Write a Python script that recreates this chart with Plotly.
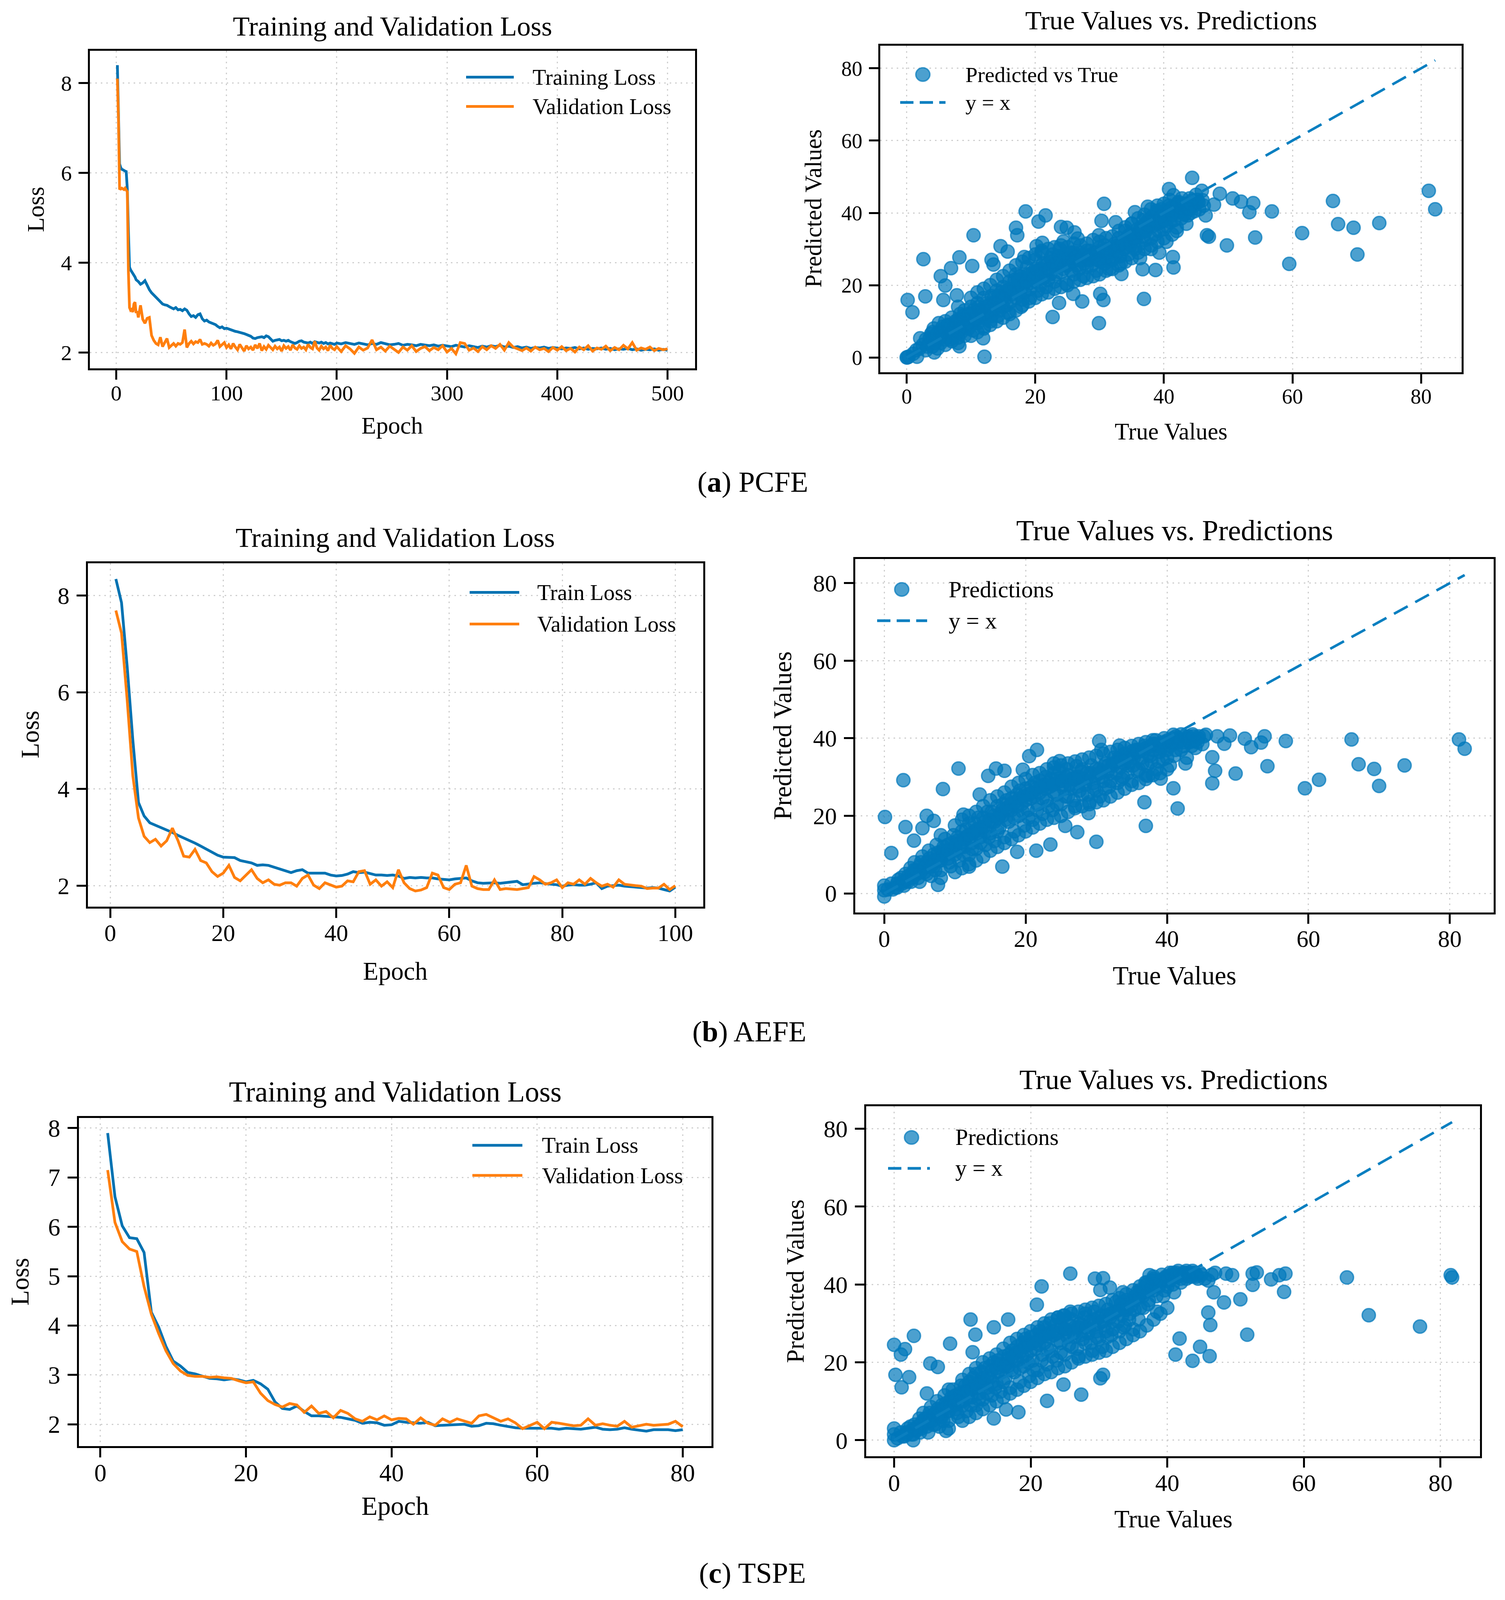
import plotly.graph_objects as go

W, H = 3852, 4295
FONT = "Liberation Serif"
FS = 0.98  # small font trim, the page is a little shorter than the reference
BLUE = "#0072B2"
ORANGE = "#FF7F0E"
DOT = "rgba(0,119,187,0.70)"
DASH_BLUE = "#0A7FC0"

# ---------------- data: (a) PCFE ----------------
epochs_a = list(range(1, 21)) + list(range(22, 201, 2)) + list(range(204, 501, 4))
train_a = [
    8.40, 7.30, 6.20, 6.12, 6.08, 6.07, 6.05, 6.04, 6.03, 5.65,
    4.70, 3.90, 3.84, 3.80, 3.76, 3.74, 3.68, 3.62, 3.60, 3.58,
    # 22..200 step 2
    3.52, 3.55, 3.60, 3.48, 3.40, 3.33, 3.28, 3.22, 3.17, 3.14,
    3.08, 3.06, 3.05, 3.02, 3.00, 2.97, 3.00, 2.95, 2.96, 2.93,
    2.97, 2.94, 2.86, 2.80, 2.82, 2.78, 2.84, 2.86, 2.75, 2.70,
    2.72, 2.68, 2.66, 2.64, 2.62, 2.58, 2.55, 2.57, 2.53, 2.54,
    2.52, 2.50, 2.49, 2.47, 2.46, 2.45, 2.43, 2.42, 2.40, 2.38,
    2.36, 2.32, 2.31, 2.33, 2.34, 2.35, 2.33, 2.37, 2.35, 2.30,
    2.25, 2.27, 2.28, 2.29, 2.26, 2.27, 2.25, 2.27, 2.24, 2.22,
    2.20, 2.22, 2.25, 2.26, 2.23, 2.22, 2.21, 2.23, 2.20, 2.24,
    2.22, 2.21, 2.23, 2.20, 2.22, 2.19, 2.21, 2.20, 2.18, 2.21,
    # 204..500 step 4
    2.19, 2.22, 2.20, 2.18, 2.21, 2.19, 2.17, 2.20, 2.18, 2.22,
    2.19, 2.17, 2.18, 2.20, 2.16, 2.18, 2.17, 2.15, 2.18, 2.16,
    2.15, 2.17, 2.14, 2.16, 2.15, 2.13, 2.16, 2.14, 2.12, 2.15,
    2.13, 2.11, 2.14, 2.12, 2.15, 2.13, 2.16, 2.12, 2.14, 2.11,
    2.13, 2.10, 2.12, 2.09, 2.11, 2.10, 2.12, 2.09, 2.11, 2.10,
    2.08, 2.10, 2.09, 2.11, 2.08, 2.10, 2.07, 2.09, 2.08, 2.10,
    2.07, 2.09, 2.06, 2.08, 2.07, 2.09, 2.06, 2.08, 2.05, 2.07,
    2.06, 2.08, 2.05, 2.07, 2.05,
]
val_a = [
    8.10, 7.17, 5.65, 5.64, 5.66, 5.65, 5.63, 5.66, 5.62, 5.58,
    3.80, 3.00, 2.94, 2.96, 2.90, 3.08, 3.12, 2.88, 2.92, 2.78,
    # 22..200 step 2
    3.05, 2.74, 2.65, 2.76, 2.78, 2.38, 2.27, 2.20, 2.17, 2.34,
    2.13, 2.22, 2.31, 2.11, 2.16, 2.20, 2.14, 2.20, 2.18, 2.22,
    2.51, 2.11, 2.20, 2.25, 2.19, 2.24, 2.22, 2.29, 2.18, 2.20,
    2.18, 2.14, 2.21, 2.16, 2.19, 2.27, 2.13, 2.18, 2.22, 2.11,
    2.17, 2.08, 2.20, 2.12, 2.06, 2.18, 2.10, 2.03, 2.15, 2.08,
    2.12, 2.05, 2.17, 2.09, 2.20, 2.04, 2.13, 2.07, 2.16, 2.10,
    2.06, 2.14, 2.08, 2.12, 2.03, 2.15, 2.09, 2.13, 2.05, 2.17,
    2.10, 2.07, 2.15, 2.09, 2.12, 2.06, 2.18, 2.11, 2.08, 2.25,
    2.10, 2.05, 2.14, 2.08, 2.12, 2.04, 2.16, 2.09, 2.06, 2.13,
    # 204..500 step 4
    2.02, 2.15, 2.08, 1.98, 2.12, 2.05, 2.10, 2.28, 2.06, 2.12,
    2.03, 2.14, 2.07, 2.00, 2.12, 2.05, 2.15, 2.02, 2.09, 2.13,
    2.04, 2.11, 2.06, 2.15, 2.01, 2.09, 1.97, 2.22, 2.20, 2.05,
    2.10, 2.02, 2.13, 2.06, 2.15, 2.09, 2.18, 2.05, 2.22, 2.12,
    2.08, 2.04, 2.10, 2.03, 2.12, 2.06, 2.09, 2.02, 2.11, 2.05,
    2.13, 2.04, 2.09, 2.01, 2.12, 2.06, 2.15, 2.03, 2.10, 2.07,
    2.14, 2.04, 2.11, 2.06, 2.16, 2.08, 2.22, 2.05, 2.10, 2.07,
    2.12, 2.04, 2.09, 2.06, 2.08,
]
# (true, predicted) pairs
points_a = [
    (0, 0), (0.3, 0.2), (0.1, 0), (1.6, 0.2), (0.15, 15.9), (0.9, 12.5), (2.6, 27.2), (2.9, 16.9),
    (2.1, 5.3), (5.3, 22.5), (6.0, 19.9), (5.7, 15.9), (6.9, 24.7), (8.2, 27.7), (7.8, 17.2),
    (10.2, 25.3), (10.4, 33.8), (11.9, 5.3), (12.1, 0.2), (8.2, 3.1), (4.3, 1.4), (13.2, 27.0),
    (13.5, 25.7), (14.6, 30.8), (15.7, 29.3), (17.0, 35.9), (17.2, 33.8), (16.5, 9.5), (18.5, 40.4),
    (20.5, 37.6), (21.6, 39.3), (18.3, 27.8), (20.2, 30.8), (21.1, 31.7), (22.7, 11.2), (23.7, 15.1),
    (24.0, 36.1), (24.9, 35.9), (24.4, 32.1), (26.1, 34.6), (26.6, 32.9), (27.3, 15.5), (25.9, 17.6),
    (29.9, 33.8), (30.3, 37.8), (30.7, 42.5), (29.9, 9.5), (30.6, 15.9), (30.1, 17.6), (32.5, 37.4),
    (33.4, 23.1), (35.5, 40.2), (36.9, 16.2), (36.7, 24.4), (38.7, 24.2), (37.5, 41.7), (38.9, 40.6),
    (40.8, 46.6), (41.5, 44.9), (40.9, 43.6), (41.5, 24.9), (41.4, 27.8), (44.4, 49.7), (45.9, 46.1),
    (46.5, 39.3), (46.7, 33.8), (47.0, 33.4), (47.8, 42.3), (48.7, 45.3), (49.8, 31.0), (50.7, 44.0),
    (52.0, 43.1), (53.3, 40.2), (53.9, 42.7), (54.2, 33.2), (56.8, 40.4), (59.5, 25.9), (61.5, 34.4),
    (66.3, 43.3), (67.1, 36.9), (69.5, 35.9), (70.1, 28.5), (73.5, 37.2), (81.2, 46.1), (82.2, 41.0),
    (45.2, 43.6), (43.7, 39.3), (42.2, 42.7),
    (1, 1), (1.5, 2), (2, 2.5), (2.5, 3.5), (3, 2), (3, 5), (3.5, 4), (3.8, 6.5), (4, 3), (4.2, 8),
    (4.5, 5), (4.8, 2.5), (5, 7), (5, 9.5), (5.3, 4), (5.5, 6), (5.8, 8), (6, 3.5), (6, 10), (6.3, 5.5),
    (6.5, 7.5), (6.8, 9), (7, 4.5), (7, 11), (7.3, 6.5), (7.6, 8.5), (8, 5.5), (8, 10.5), (8.3, 12),
    (8.5, 7), (8.8, 9), (9, 6), (9, 13), (9.3, 10.5), (9.6, 8), (10, 11), (10, 14), (10.3, 7.5),
    (10.6, 12.5), (11, 9.5), (11, 15), (11.4, 11.5), (11.8, 13.5), (12, 8.5), (12, 16.5), (12.4, 12),
    (12.8, 14.5), (13, 10), (13.2, 17), (13.5, 13), (13.8, 15.5), (14, 18.5), (14.2, 11.5), (14.6, 16),
    (15, 14), (15, 19.5), (15.4, 17.5), (15.8, 12.5), (16, 21), (16.2, 15.5), (16.6, 18.5), (17, 16.5),
    (17, 23), (17.4, 20), (17.8, 14), (18, 22), (18.3, 18), (18.7, 25), (19, 20.5), (19.2, 16.5),
    (19.6, 23.5), (20, 21), (20, 27), (20.4, 18.5), (20.8, 24.5), (21, 29), (21.3, 22), (21.7, 19.5),
    (22, 26), (22.3, 23), (22.7, 28.5), (23, 21), (23.3, 25), (23.8, 30), (24, 23.5), (24.4, 27),
    (24.8, 20.5), (25, 25.5), (25.5, 29), (26, 23), (26, 27.5), (26.5, 25.5), (27, 29), (27.5, 22.5),
    (27.8, 27), (28, 25), (28.5, 29.5), (29, 27.5), (29.5, 24), (30, 29), (30.2, 26.5), (30.8, 31),
    (31, 27.5), (31.5, 24.5), (32, 30.5), (32.4, 28), (33, 33), (33.3, 26), (33.8, 30), (34, 35),
    (34.5, 28.5), (35, 32), (35, 37), (35.5, 30), (36, 34.5), (36.3, 27.5), (36.8, 38), (37, 32.5),
    (37.5, 36), (38, 30), (38.2, 39), (38.6, 34), (39, 37), (39.3, 29), (39.6, 41), (40, 35.5),
    (40, 39), (40.4, 32), (40.8, 42), (41, 37.5), (41.3, 34), (41.7, 40.5), (42, 36), (42.3, 43),
    (42.7, 38.5), (43, 41), (43.5, 37), (44, 44), (44.2, 40), (44.7, 42), (45, 45), (45.5, 41), (46, 43.5),
    (3.2, 3), (3.6, 5.5), (4, 7), (4.4, 4), (5.2, 5.5), (5.6, 8.5), (6, 6.5), (6.4, 9), (6.8, 5),
    (7.2, 8), (7.6, 10), (8, 7), (8.4, 9.5), (8.8, 11.5), (9.2, 8.5), (9.6, 12), (10, 9), (10.4, 13),
    (10.8, 10.5), (11.2, 14), (11.6, 12.5), (12, 11), (12.4, 15), (12.8, 13), (13.2, 11.5), (13.6, 16.5),
    (14, 14.5), (14.4, 13), (14.8, 18), (15.2, 16), (15.6, 14.5), (16, 19), (16.4, 17.5), (16.8, 21.5),
    (17.2, 18), (17.6, 22.5), (18, 16), (18.4, 20.5), (18.8, 23), (19.2, 19), (19.6, 21.5), (20, 24.5),
    (20.4, 22.5), (20.8, 20), (21.2, 26), (21.6, 24), (22, 21.5), (22.4, 27.5), (22.8, 25.5), (23.2, 23),
    (23.6, 28), (24, 26), (24.4, 24.5), (24.8, 28.5), (25.2, 26.5), (25.6, 24), (26, 29), (26.4, 27),
    (26.8, 24.5), (27.2, 28), (27.6, 26), (28, 29.5), (28.4, 27), (28.8, 25.5), (29.2, 29), (29.6, 27),
    (30, 30.5), (30.4, 28), (30.8, 26), (31.2, 30), (31.6, 28.5), (32, 27), (32.4, 31.5), (32.8, 29.5),
    (33.2, 28), (33.6, 32), (34, 30.5), (34.4, 33.5), (34.8, 31), (35.2, 34), (35.6, 33), (36, 31),
    (36.4, 36), (36.8, 33.5), (37.2, 35), (37.6, 38), (38, 33), (38.4, 36.5), (38.8, 39.5), (39.2, 35),
    (39.6, 37.5), (40, 40.5), (40.4, 36.5), (40.8, 39.5), (41.2, 41.5), (41.6, 38), (42, 40),
    (42.4, 41.5), (42.8, 44), (43.2, 39.5), (43.6, 42.5), (44, 41), (44.4, 43.5), (44.8, 40.5),
    (45.4, 43), (46.2, 42),
    (4.1, 5), (4.7, 6.5), (5.4, 7), (5.9, 5), (6.6, 8), (7.1, 7), (7.8, 9.5), (8.3, 8), (8.9, 10.5),
    (9.5, 9.5), (10.1, 12), (10.7, 11), (11.3, 13), (11.9, 12), (12.5, 14), (13.1, 13.5), (13.7, 15),
    (14.3, 17), (14.9, 16.5), (15.5, 18.5), (16.1, 18), (16.7, 20), (17.3, 21.5), (17.9, 19.5),
    (18.5, 21), (19.1, 23), (19.7, 22), (20.3, 24), (20.9, 23), (21.5, 25.5), (22.1, 24.5), (22.7, 26.5),
    (23.3, 26), (23.9, 27), (24.5, 25.5), (25.1, 27.5), (25.7, 26.5), (26.3, 28), (26.9, 27), (27.5, 28.5),
    (28.1, 27.5), (28.7, 28.5), (29.3, 28), (29.9, 27), (30.5, 29.5), (31.1, 29), (31.7, 30), (32.3, 29.5),
    (32.9, 31), (33.5, 31.5), (34.1, 32.5), (34.7, 34), (35.3, 33), (35.9, 35.5), (36.5, 34.5), (37.1, 37),
    (37.7, 36.5), (38.3, 38), (38.9, 37.5), (39.5, 39), (40.1, 38), (40.7, 40.5), (41.3, 39.5), (41.9, 42),
    (42.5, 40.5), (43.1, 42.5), (43.7, 41), (44.3, 42),
    # upper and lower rim of the dense cloud
    (8, 14), (10, 16.5), (12, 19), (14, 21.5), (16, 24), (18, 26.5), (20, 28.5), (22, 30), (24, 31),
    (26, 31.5), (28, 31.5), (30, 32), (32, 33.5), (34, 36), (36, 38.5), (38, 41), (40, 42.5), (11, 18),
    (13, 20), (15, 22.5), (17, 25.5), (19, 27.5), (21, 29.5), (23, 30.5), (25, 30.5), (27, 31), (29, 32.5),
    (31, 33), (33, 35), (35, 37), (37, 39.5), (39, 42),
    (8, 4), (10, 6), (12, 8), (14, 10), (16, 12), (18, 14.5), (20, 16.5), (22, 18), (24, 19.5), (26, 21),
    (28, 22), (30, 23), (32, 24.5), (34, 26.5), (36, 29), (38, 31), (40, 33), (42, 35), (11, 7), (13, 9),
    (15, 11), (17, 13), (19, 15.5), (21, 17.5), (23, 19), (25, 20), (27, 21.5), (29, 22.5), (31, 24),
    (33, 25.5), (35, 27.5), (37, 30), (39, 32),
]

# ---------------- data: (b) AEFE ----------------
epochs_b = list(range(1, 101))
train_b = [
    8.34, 7.85, 6.53, 5.01, 3.72, 3.44, 3.30, 3.25, 3.20, 3.16,
    3.10, 3.04, 2.99, 2.93, 2.88, 2.82, 2.76, 2.70, 2.63, 2.59,
    2.59, 2.58, 2.52, 2.49, 2.47, 2.42, 2.43, 2.42, 2.38, 2.34,
    2.30, 2.27, 2.31, 2.33, 2.26, 2.26, 2.27, 2.26, 2.22, 2.20,
    2.21, 2.24, 2.29, 2.27, 2.28, 2.25, 2.22, 2.22, 2.21, 2.22,
    2.20, 2.15, 2.17, 2.16, 2.17, 2.16, 2.16, 2.14, 2.13, 2.12,
    2.14, 2.15, 2.16, 2.10, 2.06, 2.05, 2.06, 2.06, 2.05, 2.06,
    2.07, 2.09, 2.02, 2.04, 2.05, 2.06, 2.04, 2.03, 2.02, 1.99,
    2.01, 2.02, 2.01, 2.01, 2.03, 2.06, 1.94, 1.99, 2.00, 2.01,
    1.99, 1.98, 1.96, 1.96, 1.95, 1.96, 1.95, 1.92, 1.89, 1.97,
]
val_b = [
    7.69, 7.22, 5.84, 4.27, 3.40, 3.02, 2.89, 2.96, 2.82, 2.93,
    3.19, 2.93, 2.61, 2.59, 2.75, 2.52, 2.47, 2.29, 2.19, 2.26,
    2.42, 2.17, 2.10, 2.22, 2.33, 2.15, 2.06, 2.12, 2.03, 2.01,
    2.06, 2.06, 1.99, 2.15, 2.22, 2.01, 1.94, 2.06, 2.01, 1.97,
    1.99, 2.10, 2.08, 2.29, 2.31, 2.03, 2.12, 1.99, 2.08, 1.96,
    2.33, 2.06, 1.94, 1.89, 1.91, 1.96, 2.26, 2.22, 1.96, 1.92,
    2.03, 2.06, 2.42, 1.99, 1.94, 1.92, 1.92, 2.12, 1.92, 1.94,
    1.93, 1.92, 1.94, 1.96, 2.19, 2.12, 2.03, 2.06, 2.12, 1.96,
    2.06, 2.03, 2.12, 2.03, 2.15, 2.06, 1.99, 2.03, 1.97, 2.12,
    2.03, 2.01, 2.00, 1.99, 1.94, 1.95, 1.95, 2.03, 1.92, 2.00,
]
points_b = [
    (0, -0.8), (0, 0.8), (0, 2.0), (0.1, 19.7), (1.0, 10.4), (2.7, 29.2), (3.0, 17.1), (4.2, 13.6),
    (5.4, 16.8), (6.0, 20.0), (7.0, 18.7), (7.6, 2.2), (8.3, 26.9), (10.5, 32.2), (11.2, 20.3),
    (12.0, 6.9), (13.5, 25.5), (14.7, 30.3), (15.8, 32.2), (17.0, 31.6), (16.7, 6.9), (18.8, 10.7),
    (19.6, 31.9), (20.5, 35.4), (21.6, 37.0), (21.5, 11.0), (23.5, 12.6), (24.0, 33.5), (24.8, 34.1),
    (25.6, 17.4), (27.3, 15.8), (27.2, 32.8), (28.9, 20.7), (30.0, 13.3), (30.4, 39.3), (30.7, 37.0),
    (33.3, 38.1), (35.1, 36.7), (36.8, 23.5), (37.0, 17.4), (37.3, 30.3), (39.1, 29.6), (40.9, 40.9),
    (41.5, 21.9), (40.9, 27.1), (42.6, 33.5), (43.7, 39.3), (45.5, 40.9), (46.4, 35.1), (46.8, 31.6),
    (46.4, 28.4), (47.1, 40.5), (48.1, 38.6), (48.9, 40.7), (49.7, 30.9), (51.0, 39.9), (51.9, 37.7),
    (53.3, 38.9), (53.8, 40.5), (54.2, 32.8), (56.8, 39.3), (59.5, 27.1), (61.5, 29.3), (66.1, 39.7),
    (67.1, 33.3), (69.3, 32.1), (70.0, 27.7), (73.6, 33.0), (81.3, 39.7), (82.1, 37.3),
    (0.5, 1), (1, 2.5), (1.5, 1.5), (2, 3.5), (2.5, 2.5), (3, 5), (3.3, 3), (3.7, 6.5), (4, 4), (4.3, 8),
    (4.6, 5), (5, 3), (5, 7), (5.4, 9.5), (5.7, 5.5), (6, 8), (6.3, 11), (6.6, 4.5), (7, 7), (7, 10),
    (7.4, 12.5), (7.8, 8.5), (8, 6), (8.2, 11), (8.6, 14), (9, 9), (9, 12.5), (9.4, 7), (9.8, 15),
    (10, 11), (10.3, 13.5), (10.6, 8.5), (11, 16), (11.3, 12), (11.6, 14.5), (12, 10), (12, 18),
    (12.4, 13), (12.8, 16), (13, 11.5), (13.3, 19.5), (13.6, 14.5), (14, 17), (14.3, 12.5), (14.6, 21),
    (15, 15.5), (15.2, 18.5), (15.6, 13.5), (16, 22.5), (16.3, 17), (16.7, 20), (17, 14.5), (17.3, 24),
    (17.6, 18.5), (18, 21.5), (18.4, 16), (18.8, 25.5), (19, 20), (19.4, 23), (19.8, 17.5), (20, 27),
    (20.3, 21.5), (20.7, 24.5), (21, 19), (21.3, 28.5), (21.7, 23), (22, 26), (22.4, 20.5), (22.8, 30),
    (23, 24), (23.4, 27.5), (23.8, 21.5), (24, 31), (24.4, 25.5), (24.8, 29), (25, 23), (25.4, 27),
    (25.8, 32), (26, 25), (26.5, 29.5), (27, 22.5), (27.3, 27.5), (27.8, 31.5), (28, 25.5), (28.5, 29),
    (29, 23.5), (29.3, 33), (29.7, 27), (30, 30.5), (30.5, 25), (31, 29), (31.3, 33.5), (31.8, 27.5),
    (32, 31), (32.5, 35), (33, 28.5), (33.4, 32.5), (33.8, 30), (34, 36), (34.5, 33), (35, 29),
    (35.3, 35), (35.8, 31.5), (36, 37), (36.5, 33.5), (37, 30.5), (37.3, 36), (37.8, 34), (38, 38.5),
    (38.5, 32), (39, 36.5), (39.4, 34.5), (39.8, 39), (40, 37), (40.4, 33), (40.8, 38.5), (41, 35.5),
    (41.5, 40), (42, 37), (42.3, 39), (42.8, 35), (43, 40.5), (43.5, 38), (44, 39.5), (44.5, 40.5), (45, 38.5),
    (1.2, 1), (1.8, 2.5), (2.4, 4), (2.8, 2), (3.4, 4.5), (3.8, 3), (4.2, 6), (4.8, 4), (5.2, 8),
    (5.6, 6.5), (6, 5), (6.4, 9), (6.8, 7.5), (7.2, 6), (7.6, 10.5), (8, 8.5), (8.4, 12), (8.8, 10),
    (9.2, 8), (9.6, 13), (10, 10), (10.4, 14.5), (10.8, 12), (11.2, 10), (11.6, 16.5), (12, 14),
    (12.4, 11.5), (12.8, 18), (13.2, 15.5), (13.6, 13), (14, 19.5), (14.4, 16), (14.8, 14.5), (15.2, 21),
    (15.6, 18.5), (16, 16), (16.4, 20.5), (16.8, 23), (17.2, 19), (17.6, 21.5), (18, 24.5), (18.4, 19.5),
    (18.8, 22.5), (19.2, 26.5), (19.6, 21), (20, 24), (20.4, 19.5), (20.8, 27.5), (21.2, 25), (21.6, 21.5),
    (22, 29), (22.4, 24.5), (22.8, 27), (23.2, 22.5), (23.6, 29.5), (24, 26), (24.4, 23), (24.8, 31.5),
    (25.2, 28), (25.6, 25), (26, 30.5), (26.4, 27), (26.8, 24), (27.2, 30), (27.6, 26.5), (28, 32),
    (28.4, 28), (28.8, 25.5), (29.2, 31), (29.6, 28.5), (30, 26.5), (30.4, 32), (30.8, 30), (31.2, 27),
    (31.6, 31.5), (32, 29), (32.4, 33), (32.8, 31), (33.2, 35), (33.6, 29.5), (34, 33.5), (34.4, 31),
    (34.8, 35.5), (35.2, 33), (35.6, 37), (36, 32), (36.4, 35), (36.8, 38), (37.2, 33), (37.6, 35.5),
    (38, 37), (38.4, 39.5), (38.8, 34), (39.2, 37.5), (39.6, 40), (40, 35), (40.4, 38), (40.8, 40),
    (41.2, 37), (41.6, 39), (42, 41), (42.4, 38), (42.8, 40), (43.2, 39), (43.6, 41), (44, 37.5),
    (44.4, 40), (45.2, 40.5),
    (1.8, 1.5), (2.6, 3), (3.2, 3.5), (3.9, 5), (4.5, 6), (5.1, 5.5), (5.8, 7), (6.5, 7), (7.1, 8.5),
    (7.7, 9), (8.3, 10), (8.9, 11), (9.5, 11), (10.1, 12.5), (10.7, 13), (11.3, 14), (11.9, 15),
    (12.5, 15.5), (13.1, 16.5), (13.7, 17), (14.3, 18.5), (14.9, 19), (15.5, 20), (16.1, 19.5),
    (16.7, 21.5), (17.3, 22), (17.9, 23), (18.5, 23.5), (19.1, 24.5), (19.7, 25), (20.3, 25.5), (20.9, 26),
    (21.5, 27), (22.1, 27.5), (22.7, 28), (23.3, 28.5), (23.9, 28), (24.5, 29.5), (25.1, 29), (25.7, 30),
    (26.3, 28), (26.9, 29.5), (27.5, 30), (28.1, 29.5), (28.7, 31), (29.3, 30), (29.9, 32), (30.5, 31),
    (31.1, 32.5), (31.7, 33), (32.3, 33.5), (32.9, 34), (33.5, 34.5), (34.1, 35), (34.7, 34), (35.3, 36),
    (35.9, 36.5), (36.5, 37), (37.1, 37.5), (37.7, 38), (38.3, 38.5), (38.9, 38), (39.5, 39), (40.1, 39.5),
    (40.7, 39), (41.3, 40.5), (41.9, 39.5), (42.5, 40.5), (43.1, 40), (43.7, 40.5), (44.3, 39),
    # upper and lower rim of the dense cloud
    (8, 15), (10, 17.5), (12, 20), (14, 22.5), (16, 25), (18, 27.5), (20, 29.5), (22, 31), (24, 32.5),
    (26, 33.5), (28, 34.5), (30, 35.5), (32, 36.5), (34, 37.5), (36, 38.5), (38, 39.5), (11, 19), (13, 21),
    (15, 24), (17, 26), (19, 28.5), (21, 30.5), (23, 32), (25, 33), (27, 34), (29, 35), (31, 36), (33, 37),
    (35, 38), (37, 39),
    (8, 4), (10, 5.5), (12, 7.5), (14, 9.5), (16, 12), (18, 14), (20, 16), (22, 18), (24, 19.5), (26, 21),
    (28, 22.5), (30, 23.5), (32, 25), (34, 27), (36, 28.5), (38, 30.5), (40, 32), (11, 6.5), (13, 8.5),
    (15, 11), (17, 13), (19, 15), (21, 17), (23, 19), (25, 20), (27, 22), (29, 23), (31, 24), (33, 26),
    (35, 28), (37, 29.5), (39, 31),
]

# ---------------- data: (c) TSPE ----------------
epochs_c = list(range(1, 81))
train_c = [
    7.90, 6.61, 6.02, 5.78, 5.76, 5.48, 4.27, 3.97, 3.58, 3.28,
    3.18, 3.05, 3.02, 2.97, 2.93, 2.92, 2.90, 2.92, 2.90, 2.86,
    2.89, 2.82, 2.71, 2.45, 2.32, 2.30, 2.37, 2.26, 2.17, 2.17,
    2.16, 2.15, 2.14, 2.11, 2.08, 2.02, 2.04, 2.03, 1.98, 1.99,
    2.06, 2.04, 2.03, 2.02, 2.04, 1.97, 1.98, 1.99, 1.99, 2.00,
    1.96, 1.97, 2.02, 2.01, 1.98, 1.95, 1.93, 1.92, 1.92, 1.91,
    1.92, 1.92, 1.90, 1.92, 1.91, 1.90, 1.92, 1.94, 1.90, 1.89,
    1.90, 1.93, 1.90, 1.88, 1.86, 1.89, 1.89, 1.89, 1.87, 1.89,
]
val_c = [
    7.15, 6.09, 5.70, 5.55, 5.50, 4.79, 4.23, 3.84, 3.49, 3.23,
    3.08, 2.99, 2.97, 2.97, 2.95, 2.96, 2.94, 2.93, 2.88, 2.84,
    2.86, 2.63, 2.48, 2.40, 2.35, 2.42, 2.39, 2.24, 2.37, 2.22,
    2.26, 2.13, 2.28, 2.22, 2.11, 2.06, 2.15, 2.09, 2.17, 2.09,
    2.12, 2.11, 2.00, 2.13, 2.02, 1.98, 2.11, 2.04, 2.11, 2.06,
    2.02, 2.17, 2.20, 2.13, 2.06, 2.11, 2.03, 1.91, 1.98, 2.04,
    1.91, 2.04, 2.02, 1.99, 1.97, 1.98, 2.11, 1.98, 2.01, 1.98,
    1.96, 2.06, 1.94, 1.97, 2.00, 1.98, 1.99, 2.00, 2.06, 1.95,
]
points_c = [
    (0, 0), (0, 1.5), (0, 3), (2.8, 0), (0, 24.5), (1.6, 23.4), (1.0, 22), (2.9, 26.8), (0.2, 16.8),
    (1.1, 13.6), (2.2, 16.2), (5.3, 19.7), (6.4, 18.8), (4.8, 12.0), (8.2, 24.8), (7.6, 2.4),
    (11.2, 31.0), (11.9, 27.1), (11.5, 22.6), (14.6, 29.0), (16.7, 31.0), (14.6, 5.6), (16.4, 7.9),
    (18.2, 7.2), (21.6, 39.5), (20.9, 34.8), (22.4, 10.1), (24.8, 14.3), (25.8, 42.8), (27.4, 11.7),
    (29.4, 41.5), (30.6, 41.6), (30.2, 38.6), (31.6, 39.2), (30.2, 15.9), (30.6, 16.8), (33.5, 38.0),
    (37.4, 42.4), (41.2, 22.0), (41.8, 26.1), (43.7, 20.4), (44.8, 24.0), (46.2, 21.6), (46.0, 32.8),
    (46.3, 29.6), (46.8, 38.0), (48.3, 35.4), (48.6, 42.8), (49.5, 42.4), (50.7, 36.2), (51.7, 27.1),
    (52.5, 42.8), (53.1, 43.1), (52.5, 39.9), (55.2, 41.3), (56.4, 42.4), (57.3, 42.8), (57.1, 38.1),
    (66.3, 41.8), (69.5, 32.1), (77.0, 29.2), (81.5, 42.4), (81.7, 41.8),
    (0.5, 0.5), (1, 2), (1.5, 1), (2, 3), (2.5, 1.5), (3, 4), (3.3, 2.5), (3.7, 5.5), (4, 3), (4.3, 7),
    (4.6, 4.5), (5, 2), (5, 6), (5.4, 8.5), (5.7, 4), (6, 7), (6.3, 10), (6.6, 3.5), (7, 6), (7, 9),
    (7.4, 11.5), (7.8, 7.5), (8, 5), (8.2, 10), (8.6, 13), (9, 8), (9, 11.5), (9.4, 6), (9.8, 14),
    (10, 10), (10.3, 12.5), (10.6, 7.5), (11, 15), (11.3, 11), (11.6, 13.5), (12, 9), (12, 17),
    (12.4, 12), (12.8, 15), (13, 10.5), (13.3, 18.5), (13.6, 13.5), (14, 16), (14.3, 11.5), (14.6, 20),
    (15, 14.5), (15.2, 17.5), (15.6, 12.5), (16, 21.5), (16.3, 16), (16.7, 19), (17, 13.5), (17.3, 23),
    (17.6, 17.5), (18, 20.5), (18.4, 15), (18.8, 25), (19, 19), (19.4, 22), (19.8, 16.5), (20, 26.5),
    (20.3, 20.5), (20.7, 23.5), (21, 18), (21.3, 28), (21.7, 22), (22, 25), (22.4, 19.5), (22.8, 30),
    (23, 23), (23.4, 27), (23.8, 20.5), (24, 31.5), (24.4, 25), (24.8, 28.5), (25, 22), (25.4, 26.5),
    (25.8, 33), (26, 24), (26.5, 29), (27, 21.5), (27.3, 27), (27.8, 31.5), (28, 25), (28.5, 28.5),
    (29, 23), (29.3, 33), (29.7, 26.5), (30, 30), (30.5, 24), (31, 28), (31.3, 33.5), (31.8, 27),
    (32, 30.5), (32.5, 35.5), (33, 28), (33.4, 32), (33.8, 29.5), (34, 36), (34.5, 32.5), (35, 28.5),
    (35.3, 37), (35.8, 31), (36, 38.5), (36.5, 34), (37, 40), (37.3, 36), (37.8, 41), (38, 38.5),
    (38.5, 33), (39, 40.5), (39.4, 37), (39.8, 42), (40, 39.5), (40.4, 41), (40.8, 43), (41, 38),
    (41.5, 42), (42, 40.5), (42.3, 43), (42.8, 41.5), (43, 43), (43.5, 42), (44, 43), (44.5, 41.5),
    (45, 42.5), (46, 41), (47, 43),
    (1.2, 1), (1.8, 2), (2.4, 3.5), (2.8, 1.5), (3.4, 3.5), (3.8, 2), (4.2, 5), (4.8, 3.5), (5.2, 7),
    (5.6, 5), (6, 4), (6.4, 8), (6.8, 6), (7.2, 5), (7.6, 9.5), (8, 7.5), (8.4, 11), (8.8, 9), (9.2, 7),
    (9.6, 12), (10, 9), (10.4, 14), (10.8, 11), (11.2, 9), (11.6, 16), (12, 13.5), (12.4, 10.5),
    (12.8, 17.5), (13.2, 14.5), (13.6, 12), (14, 19), (14.4, 15), (14.8, 13.5), (15.2, 20.5), (15.6, 17.5),
    (16, 15), (16.4, 19.5), (16.8, 22), (17.2, 18), (17.6, 20.5), (18, 24), (18.4, 18.5), (18.8, 21.5),
    (19.2, 26), (19.6, 20), (20, 23), (20.4, 18), (20.8, 27), (21.2, 24.5), (21.6, 20.5), (22, 29),
    (22.4, 23.5), (22.8, 26.5), (23.2, 21.5), (23.6, 29.5), (24, 25.5), (24.4, 22.5), (24.8, 32),
    (25.2, 28), (25.6, 24.5), (26, 31), (26.4, 26.5), (26.8, 23.5), (27.2, 30), (27.6, 26), (28, 32.5),
    (28.4, 27.5), (28.8, 25), (29.2, 31), (29.6, 28), (30, 26), (30.4, 32), (30.8, 29.5), (31.2, 26.5),
    (31.6, 31.5), (32, 28.5), (32.4, 33), (32.8, 30.5), (33.2, 35), (33.6, 29), (34, 33.5), (34.4, 31),
    (34.8, 36), (35.2, 33.5), (35.6, 38), (36, 34), (36.4, 37), (36.8, 40.5), (37.2, 35), (37.6, 39),
    (38, 42), (38.4, 37), (38.8, 39.5), (39.2, 42.5), (39.6, 38.5), (40, 41), (40.4, 43), (40.8, 40),
    (41.2, 42), (41.6, 43.5), (42, 41.5), (42.4, 42.5), (42.8, 43.5), (43.2, 42), (43.6, 43), (44.2, 42),
    (44.8, 43), (45.5, 41.5), (46.5, 42.5),
    (1.8, 1.5), (2.6, 2.5), (3.2, 3), (3.9, 4), (4.5, 5.5), (5.1, 5), (5.8, 6.5), (6.5, 6.5), (7.1, 8),
    (7.7, 8.5), (8.3, 9), (8.9, 10.5), (9.5, 10), (10.1, 12), (10.7, 12.5), (11.3, 13), (11.9, 14.5),
    (12.5, 15), (13.1, 16), (13.7, 16.5), (14.3, 18), (14.9, 18.5), (15.5, 19.5), (16.1, 19), (16.7, 21),
    (17.3, 21.5), (17.9, 22.5), (18.5, 23), (19.1, 24), (19.7, 24.5), (20.3, 25), (20.9, 25.5),
    (21.5, 26.5), (22.1, 27), (22.7, 27.5), (23.3, 28), (23.9, 27.5), (24.5, 29), (25.1, 28.5),
    (25.7, 29.5), (26.3, 27.5), (26.9, 29), (27.5, 29.5), (28.1, 29), (28.7, 30.5), (29.3, 29.5),
    (29.9, 31.5), (30.5, 30.5), (31.1, 32), (31.7, 32.5), (32.3, 33), (32.9, 33.5), (33.5, 34), (34.1, 35),
    (34.7, 34.5), (35.3, 36), (35.9, 37), (36.5, 38), (37.1, 38.5), (37.7, 39.5), (38.3, 40), (38.9, 41),
    (39.5, 41.5), (40.1, 42), (40.7, 42.5), (41.3, 43), (41.9, 42.5), (42.5, 43), (43.1, 42.5),
    (43.7, 43.5), (44.3, 42.5),
    # upper and lower rim of the dense cloud
    (8, 13), (10, 15.5), (12, 18.5), (14, 21), (16, 23.5), (18, 26), (20, 28), (22, 30), (24, 31.5),
    (26, 32.5), (28, 33.5), (30, 34.5), (32, 36), (34, 37.5), (36, 39.5), (38, 41.5), (11, 17), (13, 20),
    (15, 22), (17, 25), (19, 27), (21, 29), (23, 31), (25, 32), (27, 33), (29, 34), (31, 35), (33, 36.5),
    (35, 38.5), (37, 40.5),
    (8, 3), (10, 5), (12, 7), (14, 9), (16, 11), (18, 13), (20, 15), (22, 17), (24, 18.5), (26, 20),
    (28, 21.5), (30, 22.5), (32, 24), (34, 26), (36, 28), (38, 31), (40, 34), (11, 6), (13, 8), (15, 10),
    (17, 12), (19, 14), (21, 16), (23, 17.5), (25, 19), (27, 21), (29, 22), (31, 23), (33, 25), (35, 27),
    (37, 29.5), (39, 32.5),
]

assert len(epochs_a) == len(train_a) == len(val_a)
assert len(epochs_b) == len(train_b) == len(val_b)
assert len(epochs_c) == len(train_c) == len(val_c)


# positions below are given in reference pixels and turned into paper fractions
def fx(p):
    return p / W


def fy(p):
    return 1 - p / H


def pad(lo, hi, f=0.05):
    s = hi - lo
    return [lo - f * s, hi + f * s]


def axis(box, horizontal, rng, dtick, size, anchor):
    if horizontal:
        dom = [fx(box[0]), fx(box[1])]
    else:
        dom = [fy(box[3]), fy(box[2])]
    return dict(domain=dom, range=rng, dtick=dtick, tick0=0, anchor=anchor,
                showline=True, mirror=True, linecolor="black", linewidth=5,
                ticks="outside", ticklen=24, tickwidth=5, tickcolor="black",
                showgrid=True, gridcolor="#cfcfcf", griddash="4px,10px", gridwidth=3,
                zeroline=False, ticklabelstandoff=-14 if horizontal else 6,
                tickfont=dict(family=FONT, size=size * FS, color="black"))


fig = go.Figure()
ann = []
shapes = []


def text(x, y, s, size, angle=0, anchor="center"):
    ann.append(dict(x=fx(x), y=fy(y), xref="paper", yref="paper", text=s, showarrow=False,
                    textangle=angle, xanchor=anchor, yanchor="middle",
                    font=dict(family=FONT, size=size * FS, color="black")))


def leg_line(x0, x1, y, color, dash="solid"):
    shapes.append(dict(type="line", xref="paper", yref="paper", x0=fx(x0), x1=fx(x1),
                       y0=fy(y), y1=fy(y), line=dict(color=color, width=7, dash=dash)))


def leg_dot(cx, cy, r=18):
    shapes.append(dict(type="circle", xref="paper", yref="paper", x0=fx(cx - r), x1=fx(cx + r),
                       y0=fy(cy + r), y1=fy(cy - r), fillcolor=DOT,
                       line=dict(color=DOT, width=3.5)))


layout_axes = {}

loss_panels = [
    ("", epochs_a, train_a, val_a, (230, 1779, 128, 982), 100, 2, 57,
     ("Training Loss", "Validation Loss"),
     dict(title=(1004, 62, 72), xt=(1004, 1136, 63), yt=(91, 555, 63),
          leg=(1193, 1315, 1361, 199, 278, 58))),
    ("3", epochs_b, train_b, val_b, (225, 1800, 1507, 2430), 20, 2, 62,
     ("Train Loss", "Validation Loss"),
     dict(title=(1011, 1437, 72), xt=(1011, 2603, 66), yt=(77, 1967, 66),
          leg=(1202, 1329, 1373, 1585, 1670, 58))),
    ("5", epochs_c, train_c, val_c, (202, 1821, 2999, 3881), 20, 1, 64,
     ("Train Loss", "Validation Loss"),
     dict(title=(1011, 2929, 75), xt=(1011, 4042, 69), yt=(51, 3439, 66),
          leg=(1209, 1337, 1385, 3072, 3153, 59))),
]

for name, ep, tr, va, box, xd, yd, ts, labels, pos in loss_panels:
    xa, ya = "x" + name, "y" + name
    fig.add_trace(go.Scatter(x=ep, y=tr, mode="lines", line=dict(color=BLUE, width=7),
                             xaxis=xa, yaxis=ya, showlegend=False))
    fig.add_trace(go.Scatter(x=ep, y=va, mode="lines", line=dict(color=ORANGE, width=7),
                             xaxis=xa, yaxis=ya, showlegend=False))
    layout_axes["xaxis" + name] = axis(box, True, pad(min(ep), max(ep)), xd, ts, ya)
    layout_axes["yaxis" + name] = axis(box, False, pad(min(tr + va), max(tr + va)), yd, ts, xa)
    t = pos["title"]
    text(t[0], t[1], "Training and Validation Loss", t[2])
    t = pos["xt"]
    text(t[0], t[1], "Epoch", t[2])
    t = pos["yt"]
    text(t[0], t[1], "Loss", t[2], angle=-90)
    lx0, lx1, tx, r1, r2, ls = pos["leg"]
    leg_line(lx0, lx1, r1, BLUE)
    leg_line(lx0, lx1, r2, ORANGE)
    text(tx, r1, labels[0], ls, anchor="left")
    text(tx, r2, labels[1], ls, anchor="left")

scatter_panels = [
    ("2", points_a, (2253, 3741, 114, 993), 55, "Predicted vs True",
     dict(title=(2997, 46, 70), xt=(2997, 1152, 62), yt=(2081, 553, 62),
          leg=(2362, 192, 2304, 2420, 267, 2469, 57))),
    ("4", points_b, (2189, 3823, 1495, 2446), 62, "Predictions",
     dict(title=(3006, 1418, 76), xt=(3006, 2616, 68), yt=(2003, 1970, 66),
          leg=(2308, 1577, 2245, 2373, 1661, 2426, 61))),
    ("6", points_c, (2217, 3788, 2967, 3908), 63, "Predictions",
     dict(title=(3003, 2895, 74), xt=(3003, 4077, 65), yt=(2036, 3438, 64),
          leg=(2333, 3051, 2273, 2380, 3134, 2443, 60))),
]

for name, pts, box, ts, label, pos in scatter_panels:
    xa, ya = "x" + name, "y" + name
    tv = [p[0] for p in pts]
    pv = [p[1] for p in pts]
    fig.add_trace(go.Scatter(x=tv, y=pv, mode="markers",
                             marker=dict(size=34, color=DOT, line=dict(color=DOT, width=3.5)),
                             xaxis=xa, yaxis=ya, showlegend=False))
    ident = [min(tv), max(tv)]
    fig.add_trace(go.Scatter(x=ident, y=ident, mode="lines",
                             line=dict(color=DASH_BLUE, width=6.5, dash="40px,22px"),
                             xaxis=xa, yaxis=ya, showlegend=False))
    layout_axes["xaxis" + name] = axis(box, True, pad(min(tv), max(tv)), 20, ts, ya)
    layout_axes["yaxis" + name] = axis(box, False, pad(min(pv + ident), max(pv + ident)), 20, ts, xa)
    t = pos["title"]
    text(t[0], t[1], "True Values vs. Predictions", t[2])
    t = pos["xt"]
    text(t[0], t[1], "True Values", t[2])
    t = pos["yt"]
    text(t[0], t[1], "Predicted Values", t[2], angle=-90)
    mx, my, lx0, lx1, ly, tx, ls = pos["leg"]
    leg_dot(mx, my)
    leg_line(lx0, lx1, ly, DASH_BLUE, dash="34px,16px")
    text(tx, my, label, ls, anchor="left")
    text(tx, ly, "y = x", ls, anchor="left")

# sub-figure captions
text(1926, 1288, "(<b>a</b>) PCFE", 76)
text(1918, 2766, "(<b>b</b>) AEFE", 76)
text(1926, 4222, "(<b>c</b>) TSPE", 76)

# size comes from the browser window, so the whole figure stays in view
fig.update_layout(autosize=True, margin=dict(l=0, r=0, t=0, b=0),
                  paper_bgcolor="white", plot_bgcolor="white",
                  annotations=ann, shapes=shapes, showlegend=False, **layout_axes)

post = ("document.body.style.margin='0';document.body.style.overflow='hidden';"
        "window.dispatchEvent(new Event('resize'));")

fig.write_html("out.html", default_width="100vw", default_height="100vh",
               config={"displayModeBar": False}, post_script=post)
